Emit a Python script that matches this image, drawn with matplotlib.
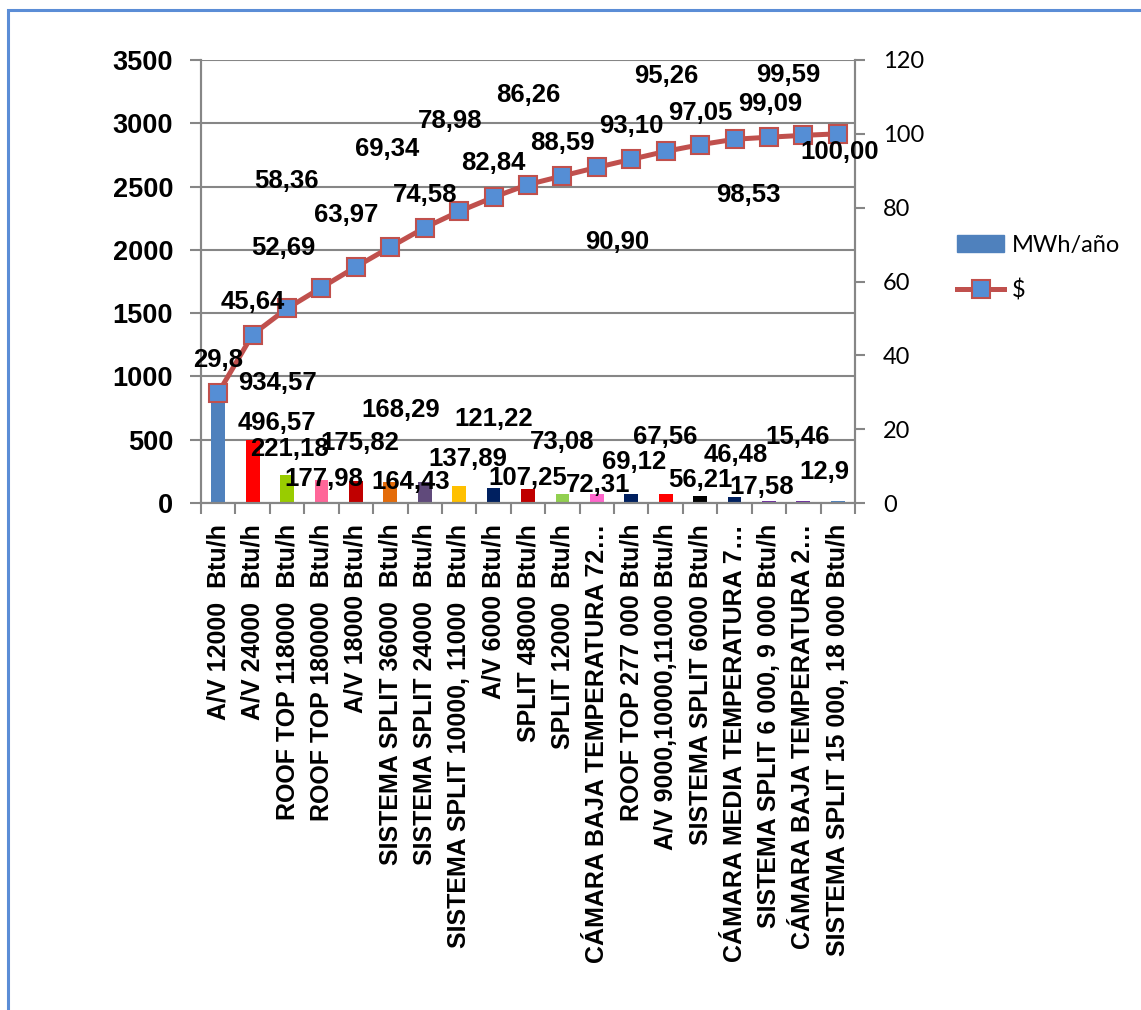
import numpy as np
import matplotlib
matplotlib.use("Agg")
import matplotlib.pyplot as plt
from matplotlib.patches import Rectangle, Patch
from matplotlib.lines import Line2D

# equipment, ordered by yearly consumption (Pareto)
equipos = [
    "A/V 12000  Btu/h", "A/V 24000  Btu/h", "ROOF TOP 118000  Btu/h",
    "ROOF TOP 180000  Btu/h", "A/V 18000 Btu/h", "SISTEMA SPLIT 36000  Btu/h",
    "SISTEMA SPLIT 24000  Btu/h", "SISTEMA SPLIT 10000, 11000  Btu/h",
    "A/V 6000 Btu/h", "SPLIT 48000 Btu/h", "SPLIT 12000  Btu/h",
    "CÁMARA BAJA TEMPERATURA 72…", "ROOF TOP 277 000 Btu/h",
    "A/V 9000,10000,11000 Btu/h", "SISTEMA SPLIT 6000 Btu/h",
    "CÁMARA MEDIA TEMPERATURA 7…", "SISTEMA SPLIT 6 000, 9 000 Btu/h",
    "CÁMARA BAJA TEMPERATURA 2…", "SISTEMA SPLIT 15 000, 18 000 Btu/h",
]
mwh_txt = ["934.57", "496.57", "221.18", "177.98", "175.82", "168.29", "164.43",
           "137.89", "121.22", "107.25", "73.08", "72.31", "69.12", "67.56",
           "56.21", "46.48", "17.58", "15.46", "12.9"]
acum_txt = ["29.8", "45.64", "52.69", "58.36", "63.97", "69.34", "74.58",
            "78.98", "82.84", "86.26", "88.59", "90.90", "93.10", "95.26",
            "97.05", "98.53", "99.09", "99.59", "100.00"]
mwh = [float(s) for s in mwh_txt]
acum = [float(s) for s in acum_txt]

colores = ["#4F81BD", "#FF0000", "#99CC00", "#FF6699", "#C00000", "#E46C0A",
           "#604A7B", "#FFC000", "#002060", "#C00000", "#92D050", "#FF66CC",
           "#002060", "#FF0000", "#000000", "#002060", "#7030A0", "#7030A0",
           "#4F81BD"]

# label offsets in pixels (x right, y up) - the data labels are scattered
off_barras = [(59, 2), (24, 17), (2, 26), (2, 1), (4, 38), (10, 72), (-14, 0),
              (9, 27), (0, 69), (0, 11), (0, 52), (1, 9), (3, 32), (0, 57),
              (0, 16), (1, 42), (-7, 14), (-6, 64), (-13, 29)]
off_linea = [(0, 33), (0, 33), (-4, 60), (-35, 107), (-10, 52), (-3, 98),
             (0, 33), (-9, 90), (0, 34), (0, 90), (0, 33), (20, -75), (0, 33),
             (1, 75), (0, 32), (14, -56), (1, 33), (-15, 60), (2, -18)]

GRIS = "#868686"
BOLD = dict(family="Liberation Sans", weight="bold")
CAL = "Lato"

fig = plt.figure(figsize=(11.41, 10.10), dpi=100)
ax = fig.add_axes([201 / 1141, 1 - 503 / 1010, 654 / 1141, 443 / 1010])
ax2 = ax.twinx()

x = np.arange(len(equipos))
ax.bar(x, mwh, width=0.4, color=colores, zorder=2)
ax.set_xlim(-0.5, len(equipos) - 0.5)
ax.set_ylim(0, 3500)
ax.set_yticks(np.arange(0, 3501, 500))
ax.yaxis.grid(True, color=GRIS, lw=1.5, zorder=0)
ax.set_axisbelow(True)

ax.set_xticks(x)
ax.set_xticklabels(equipos, rotation=90, ha="center", va="top", fontsize=18, **BOLD)
ax.set_xticks(np.arange(-0.5, len(equipos)), minor=True)
ax.tick_params(axis="x", which="major", length=0, pad=15)
ax.tick_params(axis="x", which="minor", length=8, width=1.5, color=GRIS, direction="out")
ax.tick_params(axis="y", length=8, width=1.5, color=GRIS, pad=12)
for lab in ax.get_yticklabels():
    lab.set_fontsize(19.5)
    lab.set_fontfamily("Liberation Sans")
    lab.set_fontweight("bold")

ax.spines["top"].set_visible(False)
ax2.spines["top"].set_visible(False)
for a in (ax, ax2):
    for s in ["left", "right", "bottom"]:
        a.spines[s].set_color(GRIS)
        a.spines[s].set_linewidth(1.5)

ax2.plot(x, acum, color="#C0504D", lw=3.6, marker="s", ms=13,
         mfc="#558ED5", mec="#C0504D", mew=1.5, zorder=3)
ax2.set_ylim(0, 120)
ax2.set_yticks(np.arange(0, 121, 20))
ax2.tick_params(axis="y", length=7, width=1.5, color=GRIS, pad=13)
for lab in ax2.get_yticklabels():
    lab.set_fontsize(17)
    lab.set_fontfamily(CAL)

for xi, v, t, (dx, dy) in zip(x, mwh, mwh_txt, off_barras):
    ax.annotate(t.replace(".", ","), (xi, v), xytext=(dx, dy), textcoords="offset pixels",
                ha="center", va="center", fontsize=18.5, zorder=5, **BOLD)
for xi, v, t, (dx, dy) in zip(x, acum, acum_txt, off_linea):
    ax2.annotate(t.replace(".", ","), (xi, v), xytext=(dx, dy), textcoords="offset pixels",
                 ha="center", va="center", fontsize=18.5, zorder=5, **BOLD)

handles = [Patch(color="#4F81BD"),
           Line2D([], [], color="#C0504D", lw=3.6, marker="s", ms=13,
                  mfc="#558ED5", mec="#C0504D", mew=1.5)]
fig.legend(handles, ["MWh/año", "$"], loc="center left",
           bbox_to_anchor=(936 / 1141, 1 - 268 / 1010), frameon=False,
           prop=dict(family=CAL, size=17), handlelength=2.0, handletextpad=0.3,
           labelspacing=1.0)

# chart area border
fig.add_artist(Rectangle((8 / 1141, -0.1), 1.2, 1.1 - 10 / 1010, transform=fig.transFigure,
                         fill=False, ec="#5B8DD6", lw=2.2))

fig.savefig("out.png", dpi=100, facecolor="white")
